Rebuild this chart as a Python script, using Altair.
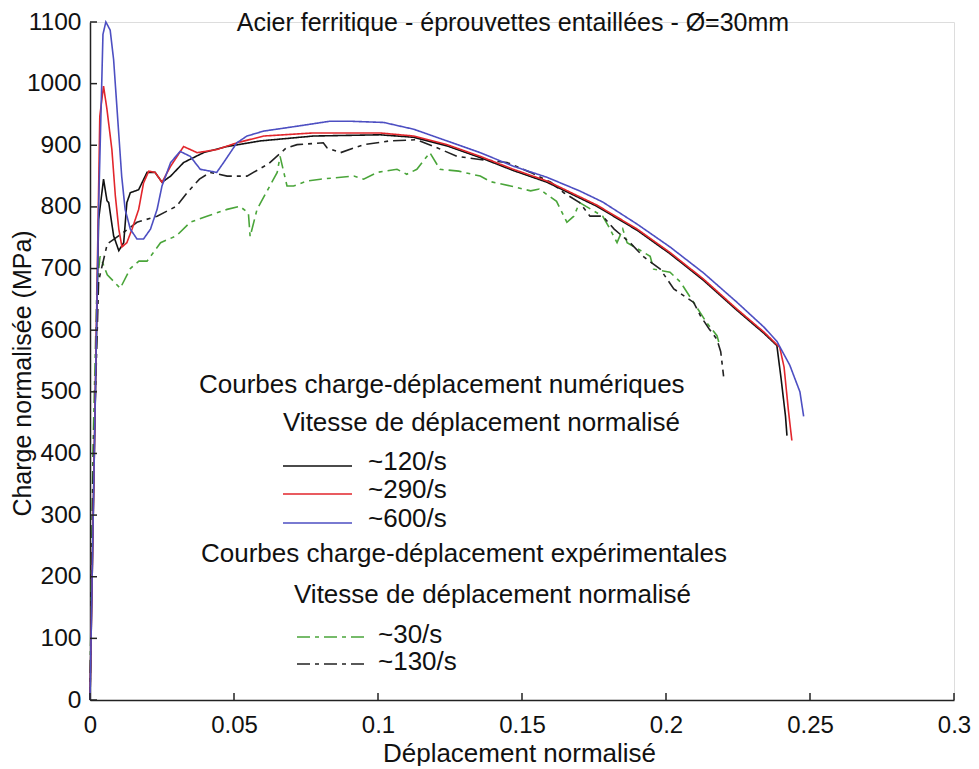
import altair as alt
import pandas as pd

TITLE = "Acier ferritique - éprouvettes entaillées - Ø=30mm"
X_TITLE = "Déplacement normalisé"
Y_TITLE = "Charge normalisée (MPa)"

X_TICKS = [0, 0.05, 0.1, 0.15, 0.2, 0.25, 0.3]
Y_TICKS = [0, 100, 200, 300, 400, 500, 600, 700, 800, 900, 1000, 1100]

# Numerical curve ~120/s (black solid)
x_120 = [0, 0.0015, 0.003, 0.0047, 0.0059, 0.0065, 0.0082, 0.01, 0.0117, 0.0128, 0.014, 0.0169,
         0.0198, 0.0226, 0.025, 0.028, 0.0325, 0.0394, 0.0476, 0.059, 0.0776, 0.1007, 0.1124,
         0.124, 0.1355, 0.147, 0.1587, 0.176, 0.19, 0.2014, 0.213, 0.2247, 0.234, 0.2385,
         0.240, 0.2415, 0.242]
y_120 = [0, 400, 780, 845, 810, 807, 753, 729, 742, 807, 823, 828,
         856, 856, 840, 850, 872, 888, 898, 907, 915, 917, 913,
         899, 880, 859, 840, 801, 762, 724, 681, 632, 595, 575,
         520, 460, 429]

# Numerical curve ~290/s (red solid)
x_290 = [0, 0.0015, 0.0034, 0.0047, 0.0059, 0.0076, 0.0088, 0.01, 0.0111, 0.0128, 0.0146, 0.0169,
         0.0186, 0.0204, 0.0226, 0.025, 0.028, 0.0325, 0.0372, 0.044, 0.051, 0.0603, 0.0776,
         0.1007, 0.1124, 0.124, 0.1355, 0.147, 0.1587, 0.176, 0.19, 0.2014, 0.213, 0.2247,
         0.234, 0.2395, 0.241, 0.2425, 0.2437]
y_290 = [0, 400, 947, 996, 958, 893, 818, 764, 735, 742, 764, 796,
         839, 858, 856, 840, 866, 898, 888, 893, 904, 915, 920,
         920, 915, 901, 882, 861, 842, 803, 764, 726, 683, 634,
         597, 572, 540, 470, 421]

# Numerical curve ~600/s (blue solid)
x_600 = [0, 0.0015, 0.003, 0.0045, 0.0055, 0.007, 0.0082, 0.0094, 0.011, 0.0122, 0.014, 0.0163,
         0.0186, 0.021, 0.0233, 0.025, 0.028, 0.0313, 0.0348, 0.0383, 0.044, 0.0464, 0.051,
         0.0545, 0.0603, 0.072, 0.0833, 0.0903, 0.102, 0.1124, 0.124, 0.1355, 0.147, 0.1587,
         0.170, 0.178, 0.19, 0.2014, 0.213, 0.2247, 0.234, 0.2385, 0.243, 0.2465, 0.2478]
y_600 = [0, 400, 800, 1080, 1100, 1087, 1039, 958, 850, 796, 764, 748,
         748, 764, 796, 834, 872, 890, 882, 861, 856, 872, 904,
         915, 923, 931, 939, 939, 937, 926, 907, 888, 866, 848,
         826, 808, 772, 735, 693, 645, 605, 582, 543, 500, 460]

# Experimental curve ~30/s (green dash-dot)
x_30 = [0, 0.001, 0.0024, 0.0035, 0.006, 0.0105, 0.014, 0.017, 0.0198, 0.0245, 0.030, 0.0348,
        0.0406, 0.0476, 0.052, 0.055, 0.0556, 0.058, 0.0615, 0.065, 0.066, 0.0684, 0.0707,
        0.0753, 0.08, 0.0916, 0.095, 0.0997, 0.1066, 0.11, 0.1135, 0.118, 0.1215, 0.128,
        0.1355, 0.139, 0.146, 0.153, 0.156, 0.162, 0.1656, 0.168, 0.17, 0.178, 0.18, 0.183,
        0.185, 0.1865, 0.1945, 0.1957, 0.2014, 0.205, 0.2096, 0.214, 0.2177, 0.2185]
y_30 = [0, 400, 672, 720, 690, 668, 700, 712, 712, 742, 753, 775,
        785, 796, 801, 790, 752, 796, 826, 856, 882, 834, 834,
        842, 845, 850, 845, 856, 861, 853, 861, 888, 861, 858,
        850, 841, 834, 826, 829, 809, 775, 785, 807, 785, 769, 742,
        764, 742, 720, 699, 694, 678, 645, 613, 591, 578]

# Experimental curve ~130/s (black dash-dot)
x_130 = [0, 0.001, 0.003, 0.006, 0.012, 0.0163, 0.0233, 0.030, 0.0337, 0.038, 0.0417, 0.0476,
         0.0545, 0.062, 0.068, 0.0719, 0.081, 0.0823, 0.087, 0.095, 0.104, 0.1135, 0.1205,
         0.1274, 0.1354, 0.1448, 0.153, 0.16, 0.1645, 0.17, 0.1736, 0.178, 0.182, 0.1875,
         0.192, 0.198, 0.2027, 0.2096, 0.212, 0.215, 0.2177, 0.219, 0.22]
y_130 = [0, 350, 680, 740, 760, 775, 785, 801, 823, 845, 856, 850,
         850, 870, 895, 901, 904, 896, 888, 901, 907, 909, 896,
         882, 877, 872, 856, 840, 823, 807, 785, 785, 764, 742,
         720, 699, 667, 645, 623, 602, 585, 565, 525]

LEGEND_HEAD_NUM = "Courbes charge-déplacement numériques"
LEGEND_HEAD_EXP = "Courbes charge-déplacement expérimentales"
LEGEND_SUB = "Vitesse de déplacement normalisé"
LABELS = ["~120/s", "~290/s", "~600/s", "~30/s", "~130/s"]

FONT = "Liberation Sans"
COLORS = ["#111111", "#e2262c", "#4d4fc2", "#4aa53a", "#222222"]
SOLID = [1, 0]
DASHDOT = [13, 5, 4, 5]
DASHES = [SOLID, SOLID, SOLID, DASHDOT, DASHDOT]

W, H = 864, 678

series = [(x_30, y_30), (x_130, y_130), (x_120, y_120), (x_290, y_290), (x_600, y_600)]
series_idx = [3, 4, 0, 1, 2]

xscale = alt.Scale(domain=[0, 0.3], nice=False, zero=False)
yscale = alt.Scale(domain=[0, 1100], nice=False)

layers = []
first = True
for (xs, ys), i in zip(series, series_idx):
    df = pd.DataFrame({"x": xs, "y": ys, "o": list(range(len(xs)))})
    if first:
        xenc = alt.X("x:Q", scale=xscale, axis=alt.Axis(
            values=X_TICKS, format=".2~f", tickSize=0, labelFlush=False, labelOverlap=False,
            labelPadding=13, labelFontSize=24, labelFont=FONT, labelColor="#111",
            domainColor="#222", domainWidth=1.5, grid=False,
            title=X_TITLE, titleFont=FONT, titleFontSize=26, titleFontWeight="normal",
            titleColor="#111", titleX=429, titleY=61, titleBaseline="alphabetic",
            titleAlign="center"))
        yenc = alt.Y("y:Q", scale=yscale, axis=alt.Axis(
            values=Y_TICKS, format="d", tickSize=0, labelPadding=9, labelFontSize=24.5,
            labelFont=FONT, labelColor="#111", domainColor="#222", domainWidth=1.5,
            grid=False, title=Y_TITLE, titleFont=FONT, titleFontSize=25,
            titleFontWeight="normal", titleColor="#111", titleX=-68, titleY=351,
            titleAngle=270, titleBaseline="middle", titleAlign="center"))
        first = False
    else:
        xenc = alt.X("x:Q", scale=xscale)
        yenc = alt.Y("y:Q", scale=yscale)
    layers.append(
        alt.Chart(df).mark_line(color=COLORS[i], strokeDash=DASHES[i], strokeWidth=1.6)
        .encode(x=xenc, y=yenc, order="o:Q")
    )

# inward ticks
xt = pd.DataFrame({"t": X_TICKS})
yt = pd.DataFrame({"t": Y_TICKS})
layers.append(alt.Chart(xt).mark_rule(color="#222", strokeWidth=1.5).encode(
    x=alt.X("t:Q", scale=xscale), y=alt.value(H), y2=alt.value(H - 7)))
layers.append(alt.Chart(yt).mark_rule(color="#222", strokeWidth=1.5).encode(
    y=alt.Y("t:Q", scale=yscale), x=alt.value(0), x2=alt.value(7)))

one = pd.DataFrame({"a": [0]})


def text_layer(txt, px, py, size=26, align="left"):
    return alt.Chart(one).mark_text(font=FONT, fontSize=size, align=align, baseline="middle",
                                    color="#111").encode(
        x=alt.value(px), y=alt.value(py), text=alt.value(txt))


def line_layer(x1, x2, py, color, dash):
    return alt.Chart(one).mark_rule(color=color, strokeDash=dash, strokeWidth=1.6).encode(
        x=alt.value(x1), x2=alt.value(x2), y=alt.value(py))


# title
layers.append(alt.Chart(one).mark_text(font=FONT, fontSize=25, align="center",
                                       baseline="alphabetic", color="#111").encode(
    x=alt.value(423), y=alt.value(9), text=alt.value(TITLE)))

# legend block
layers.append(text_layer(LEGEND_HEAD_NUM, 109, 363))
layers.append(text_layer(LEGEND_SUB, 193, 401))
num_rows = [444, 472, 501]
for k, py in enumerate(num_rows):
    layers.append(line_layer(193, 262, py, COLORS[k], DASHES[k]))
    layers.append(text_layer(LABELS[k], 278, py - 4))
layers.append(text_layer(LEGEND_HEAD_EXP, 111, 532))
layers.append(text_layer(LEGEND_SUB, 204, 573))
exp_rows = [615, 642]
for k, py in enumerate(exp_rows):
    layers.append(line_layer(207, 279, py, COLORS[3 + k], DASHES[3 + k]))
    layers.append(text_layer(LABELS[3 + k], 288, py - 2))

chart = alt.layer(*layers).properties(
    width=W, height=H,
    autosize=alt.AutoSizeParams(type="none"),
    padding={"left": 82, "top": 14, "right": 17, "bottom": 66},
).configure_view(stroke=None).configure(background="white")

chart.save("out.html", embed_options={"renderer": "svg", "actions": False})
